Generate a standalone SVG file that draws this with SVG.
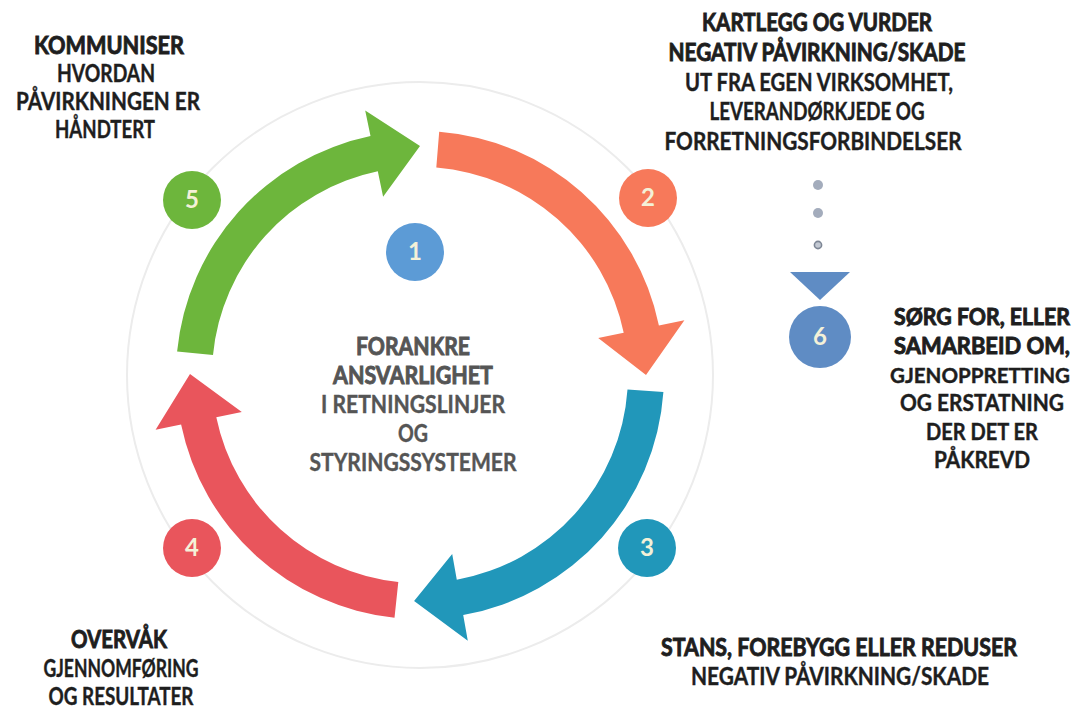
<svg xmlns="http://www.w3.org/2000/svg" width="1081" height="708" viewBox="0 0 1081 708">
<style>
text{font-family:Lato,"Open Sans","Liberation Sans",sans-serif;font-size:24px;text-anchor:middle;fill:#1e1e1e}
.h{font-weight:700;stroke:#1e1e1e;stroke-width:0.9}
.b{font-weight:700;stroke:#1e1e1e;stroke-width:0.4}
.c{fill:#555;stroke:#555}
.s{font-size:22px}
.t{font-size:20px}
.num{font-size:24px;font-weight:700;fill:#f4f1d8}
</style>
<rect width="1081" height="708" fill="#ffffff"/>
<circle cx="420" cy="375" r="293" fill="none" stroke="#ececec" stroke-width="2"/>
<g id="connectors">
<path fill="#f7795a" d="M439.2,131.8 A244,244 0 0 1 658.9,325.5 L684.4,320.2 L646,375 L598.2,338.1 L623.7,332.8 A208,208 0 0 0 436.3,167.6 Z"/>
<path fill="#2197ba" d="M663.4,392.0 A244,244 0 0 1 463.2,615.1 L467.8,640.7 L414.1,600.9 L452.2,554.1 L456.8,579.7 A208,208 0 0 0 627.5,389.5 Z"/>
<path fill="#e9555c" d="M394.5,617.7 A244,244 0 0 1 181.1,424.5 L155.6,429.8 L190,374 L241.8,411.9 L216.3,417.2 A208,208 0 0 0 398.3,581.9 Z"/>
<path fill="#6db63c" d="M177.1,351.6 A244,244 0 0 1 370.5,136.1 L365.2,110.6 L420,146 L383.1,196.8 L377.8,171.3 A208,208 0 0 0 213.0,355.1 Z"/>
<circle cx="818" cy="185" r="5" fill="#a3acbc"/>
<circle cx="818" cy="213" r="5" fill="#a3acbc"/>
<circle cx="818" cy="245" r="3.6" fill="#c3c9d3" stroke="#7d8695" stroke-width="1.6"/>
<polygon points="790,272 850,272 820,300" fill="#5f8cc4"/>
</g>
<g id="node1">
<circle cx="415" cy="252" r="29" fill="#5c9bd6"/>
<text class="num" x="415" y="260">1</text>
<text class="h c" x="413" y="355" textLength="114" lengthAdjust="spacingAndGlyphs">FORANKRE</text>
<text class="h c" x="413" y="384" textLength="160" lengthAdjust="spacingAndGlyphs">ANSVARLIGHET</text>
<text class="b c" x="413" y="413" textLength="184" lengthAdjust="spacingAndGlyphs">I RETNINGSLINJER</text>
<text class="b c" x="413" y="442" textLength="30" lengthAdjust="spacingAndGlyphs">OG</text>
<text class="b c" x="413" y="471" textLength="207" lengthAdjust="spacingAndGlyphs">STYRINGSSYSTEMER</text>
</g>
<g id="node2">
<circle cx="648" cy="198" r="29" fill="#f7795a"/>
<text class="num" x="648" y="206">2</text>
<text class="h" x="817" y="31" textLength="230" lengthAdjust="spacingAndGlyphs">KARTLEGG OG VURDER</text>
<text class="h" x="817" y="61" textLength="297" lengthAdjust="spacingAndGlyphs">NEGATIV PÅVIRKNING/SKADE</text>
<text class="b" x="819" y="91" textLength="268" lengthAdjust="spacingAndGlyphs">UT FRA EGEN VIRKSOMHET,</text>
<text class="b" x="817" y="120" textLength="215" lengthAdjust="spacingAndGlyphs">LEVERANDØRKJEDE OG</text>
<text class="b" x="813" y="150" textLength="297" lengthAdjust="spacingAndGlyphs">FORRETNINGSFORBINDELSER</text>
</g>
<g id="node3">
<circle cx="647" cy="548" r="29" fill="#2197ba"/>
<text class="num" x="647" y="556">3</text>
<text class="h" x="839" y="656" textLength="356" lengthAdjust="spacingAndGlyphs">STANS, FOREBYGG ELLER REDUSER</text>
<text class="b" x="840" y="685" textLength="298" lengthAdjust="spacingAndGlyphs">NEGATIV PÅVIRKNING/SKADE</text>
</g>
<g id="node4">
<circle cx="192" cy="548" r="29" fill="#e9555c"/>
<text class="num" x="192" y="556">4</text>
<text class="h" x="119" y="648" textLength="96" lengthAdjust="spacingAndGlyphs">OVERVÅK</text>
<text class="b" x="121" y="677" textLength="155" lengthAdjust="spacingAndGlyphs">GJENNOMFØRING</text>
<text class="b" x="121" y="705" textLength="145" lengthAdjust="spacingAndGlyphs">OG RESULTATER</text>
</g>
<g id="node5">
<circle cx="192" cy="200" r="29" fill="#6db63c"/>
<text class="num" x="192" y="208">5</text>
<text class="h" x="109" y="54" textLength="150" lengthAdjust="spacingAndGlyphs">KOMMUNISER</text>
<text class="b" x="106" y="82" textLength="98" lengthAdjust="spacingAndGlyphs">HVORDAN</text>
<text class="b" x="108" y="110" textLength="184" lengthAdjust="spacingAndGlyphs">PÅVIRKNINGEN ER</text>
<text class="b" x="105" y="138" textLength="100" lengthAdjust="spacingAndGlyphs">HÅNDTERT</text>
</g>
<g id="node6">
<circle cx="820" cy="337" r="31" fill="#5f8cc4"/>
<text class="num" x="820" y="345">6</text>
<text class="h s" x="982" y="325" textLength="176" lengthAdjust="spacingAndGlyphs">SØRG FOR, ELLER</text>
<text class="h s" x="982" y="354" textLength="176" lengthAdjust="spacingAndGlyphs">SAMARBEID OM,</text>
<text class="b t" x="980" y="383" textLength="180" lengthAdjust="spacingAndGlyphs">GJENOPPRETTING</text>
<text class="b s" x="982" y="411" textLength="164" lengthAdjust="spacingAndGlyphs">OG ERSTATNING</text>
<text class="b s" x="982" y="440" textLength="112" lengthAdjust="spacingAndGlyphs">DER DET ER</text>
<text class="b s" x="982" y="468" textLength="96" lengthAdjust="spacingAndGlyphs">PÅKREVD</text>
</g>
</svg>
